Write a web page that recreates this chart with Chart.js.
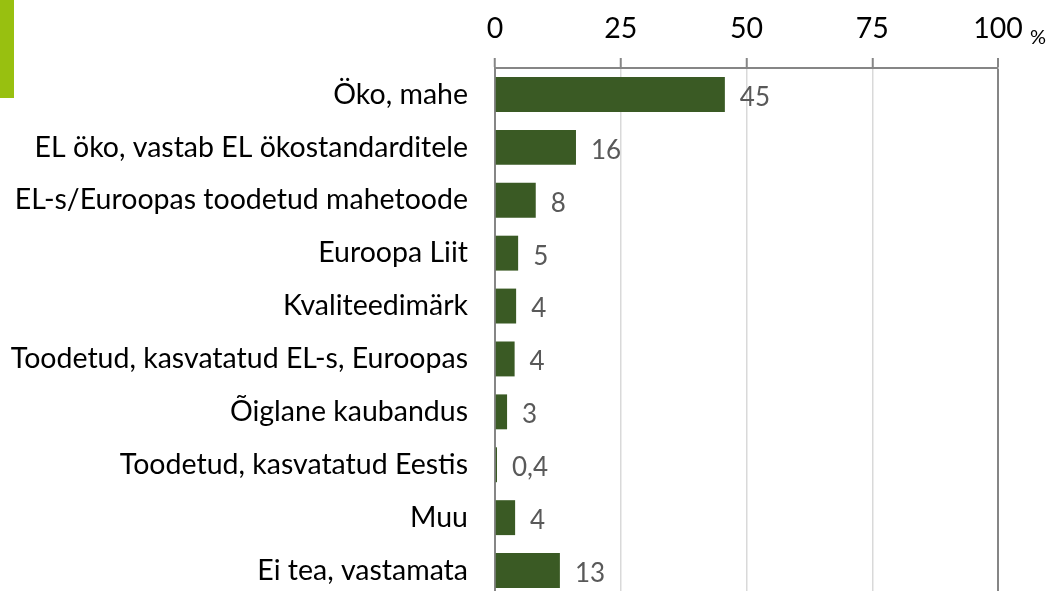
<!DOCTYPE html>
<html>
<head>
<meta charset="utf-8">
<script src="https://cdn.jsdelivr.net/npm/chart.js@4.4.1/dist/chart.umd.min.js"></script>
<style>
  html, body { margin: 0; padding: 0; background: #fff; overflow: hidden; }
  canvas { display: block; }
</style>
</head>
<body>
<canvas id="chart" width="1052" height="600"></canvas>
<script>
// categories and values
const categories = [
    'Öko, mahe',
    'EL öko, vastab EL ökostandarditele',
    'EL-s/Euroopas toodetud mahetoode',
    'Euroopa Liit',
    'Kvaliteedimärk',
    'Toodetud, kasvatatud EL-s, Euroopas',
    'Õiglane kaubandus',
    'Toodetud, kasvatatud Eestis',
    'Muu',
    'Ei tea, vastamata'
];
const values = [45.7, 16.1, 8.1, 4.6, 4.2, 3.9, 2.4, 0.4, 4.0, 12.9];
const valueLabels = ['45', '16', '8', '5', '4', '4', '3', '0,4', '4', '13'];
const xTicks = [0, 25, 50, 75, 100];

const FONT = 'Lato, "Open Sans", sans-serif';

// small plugin: green accent block, value labels and the % sign
const extras = {
    id: 'extras',
    beforeDraw(chart) {
        const ctx = chart.ctx;
        ctx.save();
        ctx.fillStyle = '#98c010';
        ctx.fillRect(0, 0, 14, 98);
        ctx.restore();
    },
    afterDatasetsDraw(chart) {
        const ctx = chart.ctx;
        const meta = chart.getDatasetMeta(0);
        ctx.save();
        ctx.font = '26px ' + FONT;
        ctx.fillStyle = '#595959';
        ctx.textAlign = 'left';
        ctx.textBaseline = 'middle';
        meta.data.forEach((bar, i) => {
            ctx.fillText(valueLabels[i], bar.x + 15, bar.y + 3);
        });
        // % after the 100 tick
        const x = chart.scales.x;
        ctx.fillStyle = '#000';
        ctx.font = '20px ' + FONT;
        ctx.fillText('%', x.getPixelForValue(100) + 32, 38);
        ctx.restore();
    }
};

new Chart(document.getElementById('chart'), {
    type: 'bar',
    data: {
        labels: categories,
        datasets: [{
            data: values,
            backgroundColor: '#3a5a24',
            barPercentage: 0.66,
            categoryPercentage: 1
        }]
    },
    options: {
        indexAxis: 'y',
        responsive: false,
        animation: false,
        layout: { padding: { left: 0, right: 54, top: 0, bottom: 3 } },
        plugins: { legend: { display: false }, tooltip: { enabled: false } },
        scales: {
            x: {
                position: 'top',
                min: 0,
                max: 100,
                afterBuildTicks: (scale) => { scale.ticks = xTicks.map(v => ({ value: v })); },
                afterFit: (scale) => { scale.height = 68; },
                ticks: {
                    color: '#000',
                    font: { family: FONT, size: 28.5 },
                    padding: 12
                },
                grid: {
                    color: (c) => c.tick && c.tick.value === 100 ? '#868686' : '#d9d9d9',
                    lineWidth: (c) => c.tick && c.tick.value === 100 ? 2 : 1.5,
                    tickColor: '#868686',
                    tickLength: 10,
                    tickWidth: 2
                },
                border: { color: '#868686', width: 2 }
            },
            y: {
                afterFit: (scale) => {
                    scale.width = 495;
                    // plot runs past the bottom edge like the original
                    scale.paddingTop = 0;
                    scale.paddingBottom = 0;
                },
                ticks: {
                    color: '#000',
                    font: { family: FONT, size: 28.5 },
                    padding: 19
                },
                grid: { display: false },
                border: { color: '#868686', width: 2 }
            }
        }
    },
    plugins: [extras]
});
</script>
</body>
</html>
